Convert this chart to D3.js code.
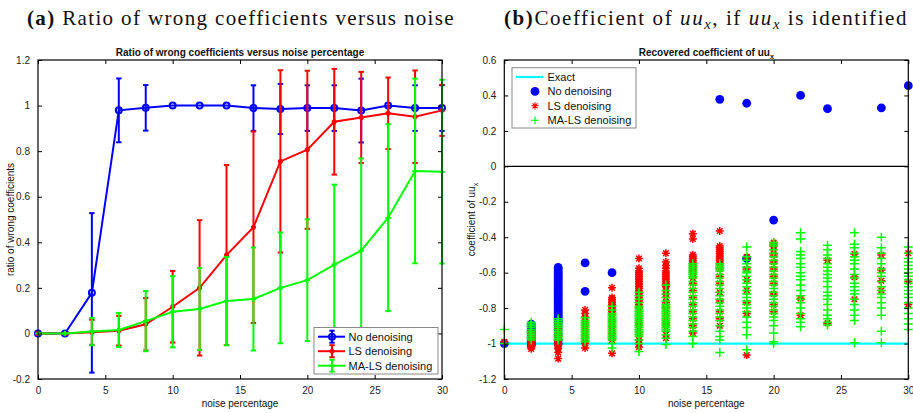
<!DOCTYPE html>
<html>
<head>
<meta charset="utf-8">
<script src="https://d3js.org/d3.v7.min.js"></script>
<style>
  body { margin: 0; background: #fff; }
  text { font-family: "Liberation Sans", Arial, sans-serif; fill: #111; }
  .ttl { font-family: "Liberation Serif", "DejaVu Serif", serif; }
</style>
</head>
<body>
<script>
// ---------------- data ----------------
const noise = [0, 2, 4, 6, 8, 10, 12, 14, 16, 18, 20, 22, 24, 26, 28, 30];

// panel (a): mean ratio of wrong coefficients and error half-widths
const ratioNo = [0, 0, 0.178, 0.979, 0.99, 1, 1, 1, 0.989, 0.985, 0.989, 0.989, 0.978, 1, 0.989, 0.989];
const errNo   = [0, 0, 0.35, 0.14, 0.1, 0, 0, 0, 0.1, 0.11, 0.1, 0.1, 0.14, 0, 0.1, 0.1];
const ratioLS = [0, 0, 0.005, 0.012, 0.04, 0.117, 0.2, 0.344, 0.466, 0.755, 0.806, 0.929, 0.948, 0.966, 0.951, 0.979];
const errLS   = [0, 0, 0.055, 0.065, 0.115, 0.157, 0.297, 0.395, 0.42, 0.4, 0.347, 0.232, 0.2, 0.157, 0.203, 0.112];
const ratioMA = [0, 0, 0.008, 0.015, 0.054, 0.095, 0.107, 0.142, 0.151, 0.2, 0.234, 0.302, 0.363, 0.508, 0.713, 0.71];
const errMA   = [0, 0, 0.06, 0.075, 0.132, 0.156, 0.18, 0.194, 0.226, 0.243, 0.267, 0.351, 0.405, 0.41, 0.405, 0.403];

// panel (b): recovered coefficient of uu_x, one list per noise level
const coefNo = [
  [-1.0],
  [-0.89, -0.9, -0.91, -0.92, -0.93, -0.94, -0.95, -0.96, -0.97, -0.98, -0.99, -1.0, -1.01],
  [-0.57, -0.58, -0.59, -0.6, -0.61, -0.62, -0.63, -0.64, -0.65, -0.66, -0.67, -0.68, -0.69, -0.7, -0.71, -0.72,
   -0.73, -0.74, -0.75, -0.76, -0.77, -0.78, -0.79, -0.8, -0.81, -0.82, -0.83, -0.84, -0.85, -0.86, -0.87, -0.88,
   -0.9, -0.92, -0.95, -0.98, -1.0],
  [-0.545, -0.705],
  [-0.6],
  [], [], [],
  [0.378],
  [0.356, -0.52],
  [-0.303],
  [0.4],
  [0.325],
  [],
  [0.33],
  [0.455]
];
const coefLS = [
  [-0.99],
  [-0.94, -0.95, -0.96, -0.97, -0.98, -0.99, -1.0, -1.01, -1.02, -1.03],
  [-0.9, -0.92, -0.94, -0.95, -0.96, -0.97, -0.98, -0.99, -1.0, -1.01, -1.02, -1.03, -1.05, -1.085],
  [-0.81, -0.83, -0.85, -0.87, -0.89, -0.91, -0.93, -0.95, -0.97, -0.99, -1.0, -1.025],
  [-0.685, -0.74, -0.75, -0.76, -0.77, -0.78, -0.79, -0.8, -0.81, -0.82, -0.84, -0.86, -0.88, -0.9, -0.92, -0.94,
   -0.96, -0.98, -1.055],
  [-0.52, -0.575, -0.59, -0.6, -0.61, -0.62, -0.63, -0.64, -0.65, -0.66, -0.67, -0.68, -0.69, -0.7, -0.71, -0.72,
   -0.74, -0.76, -0.78, -0.8, -0.83, -0.86, -0.89, -0.92, -0.95, -0.98, -1.0, -1.02],
  [-0.49, -0.54, -0.56, -0.575, -0.59, -0.6, -0.61, -0.62, -0.63, -0.64, -0.65, -0.66, -0.67, -0.68, -0.7, -0.72,
   -0.74, -0.77, -0.8, -0.83, -0.86, -0.89, -0.92, -0.95, -0.97],
  [-0.38, -0.41, -0.5, -0.51, -0.52, -0.53, -0.54, -0.55, -0.56, -0.57, -0.58, -0.59, -0.6, -0.63, -0.66, -0.7,
   -0.74, -0.78, -0.82, -0.86, -0.9, -0.94],
  [-0.365, -0.45, -0.46, -0.47, -0.48, -0.49, -0.5, -0.51, -0.52, -0.53, -0.54, -0.55, -0.58, -0.62, -0.66, -0.71,
   -0.76, -0.82, -0.86, -0.9],
  [-0.51, -0.58, -0.64, -0.7, -0.77, -0.83, -1.065],
  [-0.43, -0.44, -0.45, -0.47, -0.5, -0.54, -0.58, -0.62, -0.66, -0.72, -0.78, -0.82],
  [-0.745, -0.84],
  [-0.53, -0.885],
  [-0.495, -0.625, -0.75],
  [-0.5, -0.585, -0.645, -0.7],
  [-0.49, -0.65, -0.78]
];
const coefMA = [
  [-0.92, -1.0],
  [-0.88, -0.89, -0.9, -0.91, -0.92, -0.93, -0.94, -0.95, -0.96, -0.97, -0.98],
  [-0.86, -0.87, -0.88, -0.89, -0.9, -0.91, -0.92, -0.93, -0.94, -0.95, -0.96, -0.97, -0.98],
  [-0.855, -0.87, -0.88, -0.89, -0.9, -0.91, -0.92, -0.93, -0.94, -0.95, -0.96, -0.97, -0.98, -0.99],
  [-0.79, -0.81, -0.83, -0.84, -0.85, -0.86, -0.87, -0.88, -0.89, -0.9, -0.91, -0.92, -0.93, -0.94, -0.95, -0.96,
   -0.97, -0.98, -1.0, -1.025],
  [-0.71, -0.73, -0.75, -0.77, -0.79, -0.8, -0.81, -0.82, -0.83, -0.84, -0.85, -0.86, -0.87, -0.88, -0.89, -0.9,
   -0.91, -0.92, -0.93, -0.94, -0.95, -0.96, -0.98, -1.0, -1.045],
  [-0.67, -0.7, -0.72, -0.74, -0.76, -0.78, -0.79, -0.8, -0.81, -0.82, -0.83, -0.84, -0.85, -0.86, -0.87, -0.88,
   -0.89, -0.9, -0.91, -0.92, -0.93, -0.95, -0.97, -1.005],
  [-0.55, -0.56, -0.57, -0.58, -0.59, -0.6, -0.61, -0.62, -0.63, -0.65, -0.67, -0.69, -0.71, -0.73, -0.75, -0.77,
   -0.79, -0.81, -0.83, -0.85, -0.87, -0.89, -0.91, -0.93, -0.96, -1.0],
  [-0.55, -0.56, -0.57, -0.58, -0.59, -0.61, -0.63, -0.65, -0.67, -0.69, -0.71, -0.73, -0.75, -0.77, -0.79, -0.81,
   -0.83, -0.85, -0.87, -0.9, -0.93, -0.96, -0.98, -1.05],
  [-0.455, -0.51, -0.53, -0.55, -0.57, -0.59, -0.6, -0.62, -0.64, -0.66, -0.68, -0.7, -0.72, -0.74, -0.76, -0.78,
   -0.8, -0.82, -0.85, -0.88, -0.91, -0.95, -1.035],
  [-0.43, -0.44, -0.45, -0.47, -0.49, -0.51, -0.53, -0.55, -0.57, -0.59, -0.61, -0.63, -0.65, -0.67, -0.69, -0.71,
   -0.73, -0.75, -0.77, -0.79, -0.81, -0.83, -0.85, -0.87, -0.9, -0.94, -0.99, -1.0],
  [-0.375, -0.41, -0.48, -0.5, -0.52, -0.55, -0.57, -0.6, -0.62, -0.64, -0.67, -0.7, -0.73, -0.75, -0.77, -0.8,
   -0.83, -0.86, -0.88, -0.905],
  [-0.445, -0.47, -0.5, -0.52, -0.55, -0.57, -0.59, -0.61, -0.63, -0.65, -0.68, -0.71, -0.73, -0.75, -0.78, -0.81,
   -0.84, -0.86, -0.88, -0.895],
  [-0.375, -0.44, -0.46, -0.49, -0.51, -0.53, -0.55, -0.58, -0.61, -0.63, -0.66, -0.68, -0.7, -0.72, -0.75, -0.78,
   -0.81, -0.84, -0.87, -0.995],
  [-0.4, -0.46, -0.49, -0.52, -0.55, -0.58, -0.6, -0.62, -0.65, -0.68, -0.7, -0.72, -0.74, -0.77, -0.8, -0.84,
   -0.93, -0.995],
  [-0.455, -0.49, -0.52, -0.54, -0.56, -0.58, -0.6, -0.62, -0.64, -0.66, -0.68, -0.7, -0.72, -0.74, -0.77, -0.8,
   -0.83, -0.86, -0.89, -0.92]
];
const exactCoef = -1;

const xTicks = [0, 5, 10, 15, 20, 25, 30];
const yTicksA = [-0.2, 0, 0.2, 0.4, 0.6, 0.8, 1, 1.2];
const yTicksB = [-1.2, -1, -0.8, -0.6, -0.4, -0.2, 0, 0.2, 0.4, 0.6];
const namesA = ["No denoising", "LS denoising", "MA-LS denoising"];
const namesB = ["Exact", "No denoising", "LS denoising", "MA-LS denoising"];

// ---------------- setup ----------------
const W = 913, H = 413;
const BLUE = "#0000ff", RED = "#ff0000", GREEN = "#00ff00", CYAN = "#00ffff";

const svg = d3.select("body").append("svg")
    .attr("width", W).attr("height", H);

const boxA = {left: 38, right: 442, top: 60, bottom: 379};
const boxB = {left: 504.3, right: 908.3, top: 60, bottom: 379};

const xA = d3.scaleLinear().domain([0, 30]).range([boxA.left, boxA.right]);
const yA = d3.scaleLinear().domain([-0.2, 1.2]).range([boxA.bottom, boxA.top]);
const xB = d3.scaleLinear().domain([0, 30]).range([boxB.left, boxB.right]);
const yB = d3.scaleLinear().domain([-1.2, 0.6]).range([boxB.bottom, boxB.top]);

const fmt = d => String(+d.toFixed(1));

function drawAxes(x, y, box, yTicks) {
    const g = svg.append("g");
    g.append("g").attr("transform", "translate(0," + box.bottom + ")")
        .call(d3.axisBottom(x).tickValues(xTicks).tickSize(-4).tickPadding(8).tickFormat(fmt));
    g.append("g").attr("transform", "translate(0," + box.top + ")")
        .call(d3.axisTop(x).tickValues(xTicks).tickSize(-4).tickFormat(""));
    g.append("g").attr("transform", "translate(" + box.left + ",0)")
        .call(d3.axisLeft(y).tickValues(yTicks).tickSize(-4).tickPadding(8).tickFormat(fmt));
    g.append("g").attr("transform", "translate(" + box.right + ",0)")
        .call(d3.axisRight(y).tickValues(yTicks).tickSize(-4).tickFormat(""));
    g.selectAll(".domain").remove();
    g.selectAll(".tick line").attr("stroke", "#000");
    g.selectAll(".tick text").attr("font-size", 10).attr("font-family", null).style("fill", "#222");
    g.append("rect")
        .attr("x", box.left).attr("y", box.top)
        .attr("width", box.right - box.left).attr("height", box.bottom - box.top)
        .attr("fill", "none").attr("stroke", "#000").attr("stroke-width", 1.2);
}

function starPath(s) {
    const d = s * 0.7;
    return "M" + (-s) + ",0L" + s + ",0M0," + (-s) + "L0," + s +
        "M" + (-d) + "," + (-d) + "L" + d + "," + d + "M" + (-d) + "," + d + "L" + d + "," + (-d);
}
function plusPath(s) {
    return "M" + (-s) + ",0L" + s + ",0M0," + (-s) + "L0," + s;
}

// ---------------- panel (a) ----------------
const seriesA = [
    {name: namesA[0], vals: ratioNo, err: errNo, color: BLUE, mark: "o"},
    {name: namesA[1], vals: ratioLS, err: errLS, color: RED, mark: "*"},
    {name: namesA[2], vals: ratioMA, err: errMA, color: GREEN, mark: "+"}
];

const gA = svg.append("g");
const lineA = d3.line().x((d, i) => xA(noise[i])).y(d => yA(d));

seriesA.forEach(s => {
    const g = gA.append("g");
    // error bars
    s.err.forEach((e, i) => {
        if (e <= 0) return;
        const cx = xA(noise[i]);
        const y1 = yA(s.vals[i] + e), y0 = yA(s.vals[i] - e);
        g.append("line").attr("x1", cx).attr("x2", cx).attr("y1", y1).attr("y2", y0)
            .attr("stroke", s.color).attr("stroke-width", 2);
        [y1, y0].forEach(yy => g.append("line")
            .attr("x1", cx - 2.7).attr("x2", cx + 2.7).attr("y1", yy).attr("y2", yy)
            .attr("stroke", s.color).attr("stroke-width", 2));
    });
    g.append("path").datum(s.vals).attr("d", lineA)
        .attr("fill", "none").attr("stroke", s.color).attr("stroke-width", 2);
    s.vals.forEach((v, i) => drawMarkA(g, s, xA(noise[i]), yA(v)));
});

function drawMarkA(g, s, cx, cy) {
    if (s.mark === "o") {
        g.append("circle").attr("cx", cx).attr("cy", cy).attr("r", 3)
            .attr("fill", "none").attr("stroke", s.color).attr("stroke-width", 2);
    } else {
        g.append("path").attr("transform", "translate(" + cx + "," + cy + ")")
            .attr("d", s.mark === "*" ? starPath(2.5) : plusPath(2.8))
            .attr("fill", "none").attr("stroke", s.color).attr("stroke-width", 2);
    }
}

drawAxes(xA, yA, boxA, yTicksA);

// legend (a)
const legA = svg.append("g");
legA.append("rect").attr("x", 314).attr("y", 327.5).attr("width", 124).attr("height", 46.5)
    .attr("fill", "#fff").attr("stroke", "#888").attr("stroke-width", 1);
seriesA.forEach((s, i) => {
    const cy = 336.7 + i * 14.5;
    legA.append("line").attr("x1", 318).attr("x2", 345).attr("y1", cy).attr("y2", cy)
        .attr("stroke", s.color).attr("stroke-width", 2);
    legA.append("line").attr("x1", 332).attr("x2", 332).attr("y1", cy - 6).attr("y2", cy + 6)
        .attr("stroke", s.color).attr("stroke-width", 2);
    [cy - 6, cy + 6].forEach(yy => legA.append("line")
        .attr("x1", 329.3).attr("x2", 334.7).attr("y1", yy).attr("y2", yy)
        .attr("stroke", s.color).attr("stroke-width", 2));
    drawMarkA(legA, s, 332, cy);
    legA.append("text").attr("x", 348.5).attr("y", cy + 4).attr("font-size", 11).text(s.name);
});

// axis texts (a)
svg.append("text").attr("x", (boxA.left + boxA.right) / 2).attr("y", 56)
    .attr("text-anchor", "middle").attr("font-size", 10).attr("font-weight", "bold")
    .text("Ratio of wrong coefficients versus noise percentage");
svg.append("text").attr("x", (boxA.left + boxA.right) / 2).attr("y", 407)
    .attr("text-anchor", "middle").attr("font-size", 10).text("noise percentage");
svg.append("text").attr("transform", "translate(14," + (boxA.top + boxA.bottom) / 2 + ") rotate(-90)")
    .attr("text-anchor", "middle").attr("font-size", 10).text("ratio of wrong coefficients");

// ---------------- panel (b) ----------------
const gB = svg.append("g");
// zero line
gB.append("line").attr("x1", boxB.left).attr("x2", boxB.right)
    .attr("y1", yB(0)).attr("y2", yB(0)).attr("stroke", "#000").attr("stroke-width", 1.3);
// exact line
gB.append("line").attr("x1", xB(0)).attr("x2", xB(30))
    .attr("y1", yB(exactCoef)).attr("y2", yB(exactCoef))
    .attr("stroke", CYAN).attr("stroke-width", 2.2);

function flatten(lists) {
    const out = [];
    lists.forEach((arr, i) => arr.forEach(v => out.push([noise[i], v])));
    return out;
}

gB.append("g").selectAll("circle").data(flatten(coefNo)).join("circle")
    .attr("cx", d => xB(d[0])).attr("cy", d => yB(d[1])).attr("r", 4.4)
    .attr("fill", BLUE);
gB.append("g").selectAll("path").data(flatten(coefLS)).join("path")
    .attr("transform", d => "translate(" + xB(d[0]) + "," + yB(d[1]) + ")")
    .attr("d", starPath(4)).attr("fill", "none").attr("stroke", RED).attr("stroke-width", 1.5);
gB.append("g").selectAll("path").data(flatten(coefMA)).join("path")
    .attr("transform", d => "translate(" + xB(d[0]) + "," + yB(d[1]) + ")")
    .attr("d", plusPath(4.5)).attr("fill", "none").attr("stroke", GREEN).attr("stroke-width", 1.5);

drawAxes(xB, yB, boxB, yTicksB);

// legend (b)
const legB = svg.append("g");
legB.append("rect").attr("x", 512).attr("y", 67.7).attr("width", 124).attr("height", 60.3)
    .attr("fill", "#fff").attr("stroke", "#888").attr("stroke-width", 1);
namesB.forEach((name, i) => {
    const cy = 77 + i * 14.4;
    if (i === 0) {
        legB.append("line").attr("x1", 516).attr("x2", 543).attr("y1", cy).attr("y2", cy)
            .attr("stroke", CYAN).attr("stroke-width", 2.2);
    } else if (i === 1) {
        legB.append("circle").attr("cx", 535).attr("cy", cy).attr("r", 4.4).attr("fill", BLUE);
    } else {
        legB.append("path").attr("transform", "translate(535," + cy + ")")
            .attr("d", i === 2 ? starPath(3.6) : plusPath(4))
            .attr("fill", "none").attr("stroke", i === 2 ? RED : GREEN).attr("stroke-width", 1.1);
    }
    legB.append("text").attr("x", 547.5).attr("y", cy + 4).attr("font-size", 11).text(name);
});

// axis texts (b)
const tB = svg.append("text").attr("x", (boxB.left + boxB.right) / 2).attr("y", 56)
    .attr("text-anchor", "middle").attr("font-size", 10).attr("font-weight", "bold");
tB.append("tspan").text("Recovered coefficient of uu");
tB.append("tspan").attr("dy", 3).attr("font-size", 7).text("x");
svg.append("text").attr("x", (boxB.left + boxB.right) / 2).attr("y", 407)
    .attr("text-anchor", "middle").attr("font-size", 10).text("noise percentage");
const yLabB = svg.append("text")
    .attr("transform", "translate(474.5," + (boxB.top + boxB.bottom) / 2 + ") rotate(-90)")
    .attr("text-anchor", "middle").attr("font-size", 10);
yLabB.append("tspan").text("coefficient of uu");
yLabB.append("tspan").attr("dy", 3).attr("font-size", 7).text("x");

// ---------------- panel titles ----------------
// stretch with letter spacing so the serif title spans the same width
function fitTitle(sel, left, right) {
    const w = sel.node().getComputedTextLength();
    const n = sel.text().length;
    sel.attr("letter-spacing", Math.max(0, (right - left - w) / n));
}
const titleA = svg.append("text").attr("class", "ttl").attr("x", 27).attr("y", 25).attr("font-size", 21);
titleA.append("tspan").attr("font-weight", "bold").text("(a)");
titleA.append("tspan").text(" Ratio of wrong coefficients versus noise");
fitTitle(titleA, 27, 455);

const titleB = svg.append("text").attr("class", "ttl").attr("x", 504).attr("y", 25).attr("font-size", 21);
titleB.append("tspan").attr("font-weight", "bold").text("(b)");
titleB.append("tspan").text("Coefficient of ");
titleB.append("tspan").attr("font-style", "italic").text("uu");
titleB.append("tspan").attr("font-style", "italic").attr("font-size", "0.7em").attr("dy", 4).text("x");
titleB.append("tspan").attr("dy", -4).text(", if ");
titleB.append("tspan").attr("font-style", "italic").text("uu");
titleB.append("tspan").attr("font-style", "italic").attr("font-size", "0.7em").attr("dy", 4).text("x");
titleB.append("tspan").attr("dy", -4).text(" is identified");
fitTitle(titleB, 504, 908);
</script>
</body>
</html>
